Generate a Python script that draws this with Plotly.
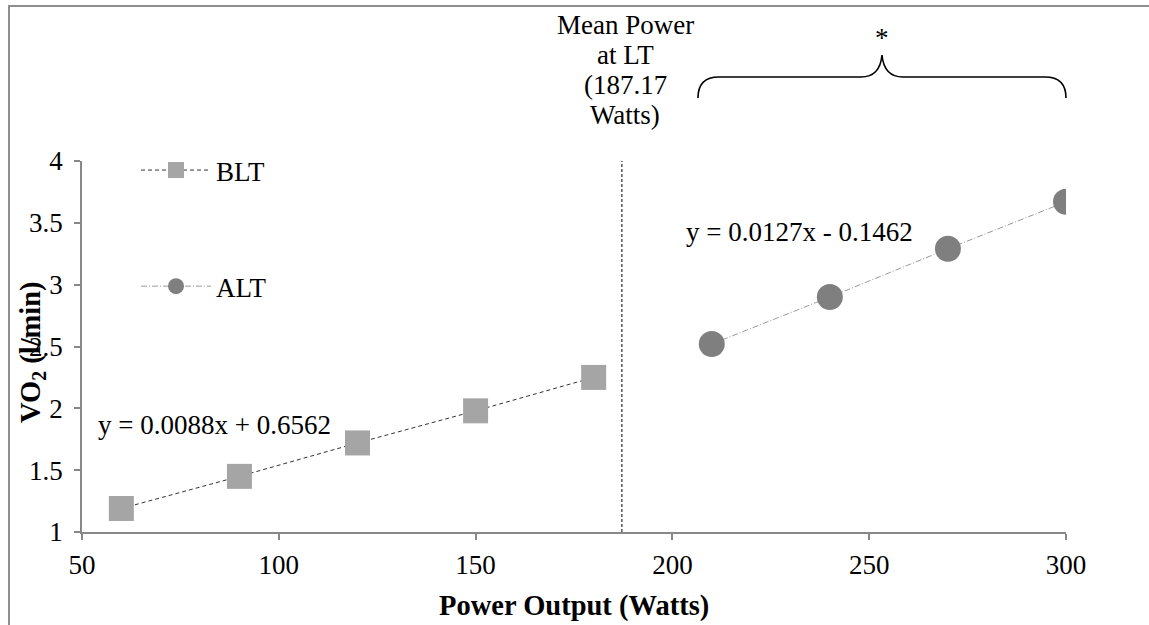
import numpy as np
import plotly.graph_objects as go

# ---- data ----
blt_x = [60, 90, 120, 150, 180]
blt_y = [1.19, 1.45, 1.72, 1.98, 2.25]
alt_x = [210, 240, 270, 300]
alt_y = [2.52, 2.90, 3.29, 3.67]
lt_power = 187.17
x_ticks = [50, 100, 150, 200, 250, 300]
y_ticks = [1, 1.5, 2, 2.5, 3, 3.5, 4]
blt_eq = "y = 0.0088x + 0.6562"
alt_eq = "y = 0.0127x - 0.1462"
lt_label = ["Mean Power", "at LT", "(187.17", "Watts)"]

W, H = 1149, 625
ML, MR, MT, MB = 82, 83, 161, 93
PW, PH = W - ML - MR, H - MT - MB
FONT = "Liberation Serif"
FS = 27
FT = 28.5


def px(xp):
    return (xp - ML) / PW


def py(yp):
    return (H - MB - yp) / PH


fig = go.Figure()

fig.add_trace(go.Scatter(
    x=blt_x, y=blt_y, name="BLT", mode="lines+markers",
    line=dict(color="#333333", width=1, dash="4px,3px"),
    marker=dict(symbol="square", size=25, color="#A5A5A5"),
    legendgroup="a",
))
fig.add_trace(go.Scatter(
    x=alt_x, y=alt_y, name="ALT", mode="lines+markers",
    line=dict(color="#9A9A9A", width=1, dash="6px,2px,1px,2px"),
    marker=dict(symbol="circle", size=26, color="#7F7F7F"),
    legendgroup="b",
))

axis_common = dict(
    showgrid=False, zeroline=False, showline=True, linecolor="#888888",
    linewidth=1.5, ticks="outside", ticklen=6, tickcolor="#888888",
    tickwidth=1.5, tickfont=dict(family=FONT, size=FS, color="black"),
)
fig.update_xaxes(range=[x_ticks[0], x_ticks[-1]], tickvals=x_ticks,
                 ticklabelstandoff=2, **axis_common)
fig.update_yaxes(range=[y_ticks[0], y_ticks[-1]], tickvals=y_ticks,
                 ticktext=[f"{v:g}" for v in y_ticks], ticklabelstandoff=6,
                 **axis_common)

shapes = []
# vertical LT line
shapes.append(dict(type="line", xref="x", yref="y", x0=lt_power, x1=lt_power,
                   y0=y_ticks[0], y1=y_ticks[-1],
                   line=dict(color="black", width=1, dash="3px,2px")))
# outer chart border
shapes.append(dict(type="rect", xref="paper", yref="paper",
                   x0=px(9), x1=px(W + 20), y0=py(6), y1=py(H + 20),
                   line=dict(color="#8E8E8E", width=2)))


# curly brace over ALT range
def dx(v):
    return (v - x_ticks[0]) / (x_ticks[-1] - x_ticks[0])


bl = dx(alt_x[0] - 3.5)
br = dx(alt_x[-1])
bm = (bl + br) / 2
yb, yh, yt = py(98), py(77), py(55)
r = 21 / PW
path = (f"M {bl},{yb} Q {bl},{yh} {bl + r},{yh} L {bm - r},{yh} "
        f"Q {bm - 0.002},{yh} {bm},{yt} Q {bm + 0.002},{yh} {bm + r},{yh} "
        f"L {br - r},{yh} Q {br},{yh} {br},{yb}")
shapes.append(dict(type="path", xref="paper", yref="paper", path=path,
                   line=dict(color="black", width=1.6)))

txt = dict(showarrow=False, xanchor="center", yanchor="middle",
           font=dict(family=FONT, size=FS, color="black"))
ttl = dict(showarrow=False, xanchor="center", yanchor="middle",
           font=dict(family=FONT, size=FT, color="black"))
annotations = []
for i, t in enumerate(lt_label):
    annotations.append(dict(x=lt_power + 0.9, y=py(25 + 30 * i), xref="x", yref="paper",
                            text=t, **txt))
annotations.append(dict(x=bm, y=py(38), xref="paper", yref="paper", text="*", **txt))
annotations.append(dict(x=px(214), y=py(425), xref="paper", yref="paper", text=blt_eq, **txt))
annotations.append(dict(x=px(799), y=py(232), xref="paper", yref="paper", text=alt_eq, **txt))
annotations.append(dict(x=px(32), y=py(352), xref="paper", yref="paper",
                        text="<b>VO<sub>2</sub> (l/min)</b>", textangle=-90, **ttl))
annotations.append(dict(x=px(574), y=py(606), xref="paper", yref="paper",
                        text="<b>Power Output (Watts)</b>", **ttl))

fig.update_layout(
    width=W, height=H, autosize=False,
    margin=dict(l=ML, r=MR, t=MT, b=MB, autoexpand=False),
    paper_bgcolor="white", plot_bgcolor="white",
    shapes=shapes, annotations=annotations,
    showlegend=True,
    legend=dict(x=px(136), y=py(146), xanchor="left", yanchor="top",
                font=dict(family=FONT, size=FS, color="black"),
                bgcolor="rgba(0,0,0,0)", tracegroupgap=78, itemwidth=70),
)

fig.write_html("out.html", config={"displayModeBar": False},
               post_script="document.body.style.margin='0px';")
